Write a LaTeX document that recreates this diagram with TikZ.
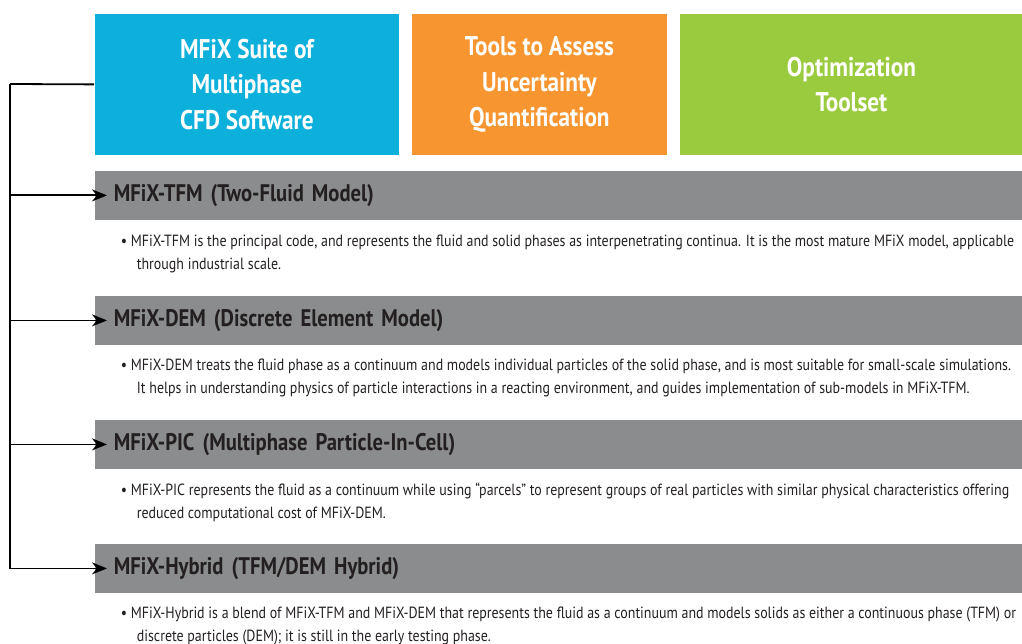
\documentclass[tikz,border=0pt]{standalone}
\usepackage{fontspec}
\setmainfont[FakeStretch=0.86]{PT Sans}
\usepackage{tikz}
\usetikzlibrary{arrows.meta}

\definecolor{suiteblue}{RGB}{13,175,219}
\definecolor{toolorange}{RGB}{247,149,48}
\definecolor{optgreen}{RGB}{154,203,63}
\definecolor{bargray}{RGB}{138,140,141}
\definecolor{inkdark}{RGB}{35,31,32}

\begin{document}
\begin{tikzpicture}[x=1pt, y=-1pt, line width=1.8pt,
    top/.style = {anchor=north west, inner sep=0pt, minimum height=141pt, align=center,
                  text=white, font=\fontsize{27}{35.5}\selectfont\bfseries},
    bar/.style = {anchor=north west, fill=bargray, inner xsep=19pt, inner ysep=0pt,
                  minimum height=49pt, text width=890pt, align=left, text=inkdark,
                  font=\fontsize{24}{25}\selectfont\bfseries},
    body/.style = {anchor=west, inner sep=0pt, align=left, text=inkdark,
                   font=\fontsize{16.2}{23}\selectfont},
    link/.style = {-{Stealth[length=15pt,width=12pt]}}]
    \useasboundingbox (0,0) rectangle (1022,644);
            \node[top, fill=suiteblue, minimum width=304pt] (suite) at (94,13) {MFiX Suite of\\Multiphase\\CFD Software};
            \node[top, fill=toolorange, minimum width=255pt] (uq) at (411,13) {Tools to Assess\\Uncertainty\\Quantification};
            \node[top, fill=optgreen, minimum width=343pt] (opt) at (679,13) {Optimization\\Toolset};
            \node[bar] (tfm) at (94,170) {MFiX-TFM (Two-Fluid Model)};
            \node[bar] (dem) at (94,295) {MFiX-DEM (Discrete Element Model)};
            \node[bar] (pic) at (94,419) {MFiX-PIC (Multiphase Particle-In-Cell)};
            \node[bar] (hyb) at (94,543) {MFiX-Hybrid (TFM/DEM Hybrid)};
            \node[body] (tfmtxt) at (120,253.5) {\textbullet\ MFiX-TFM is the principal code, and represents the fluid and solid phases as interpenetrating continua. It is the most mature MFiX model, applicable\\\hspace*{16pt}through industrial scale.};
            \node[body] (demtxt) at (120,377.5) {\textbullet\ MFiX-DEM treats the fluid phase as a continuum and models individual particles of the solid phase, and is most suitable for small-scale simulations.\\\hspace*{16pt}It helps in understanding physics of particle interactions in a reacting environment, and guides implementation of sub-models in MFiX-TFM.};
            \node[body] (pictxt) at (120,502.5) {\textbullet\ MFiX-PIC represents the fluid as a continuum while using ``parcels'' to represent groups of real particles with similar physical characteristics offering\\\hspace*{16pt}reduced computational cost of MFiX-DEM.};
            \node[body] (hybtxt) at (120,626) {\textbullet\ MFiX-Hybrid is a blend of MFiX-TFM and MFiX-DEM that represents the fluid as a continuum and models solids as either a continuous phase (TFM) or\\\hspace*{16pt}discrete particles (DEM); it is still in the early testing phase.};
            \coordinate (spine) at (10,84);
            \draw (suite.west) -- (spine);
            \draw[link] (spine) |- ([xshift=13pt]tfm.west);
            \draw[link] (spine) |- ([xshift=13pt]dem.west);
            \draw[link] (spine) |- ([xshift=13pt]pic.west);
            \draw[link] (spine) |- ([xshift=13pt]hyb.west);
        \end{tikzpicture}
\end{document}
